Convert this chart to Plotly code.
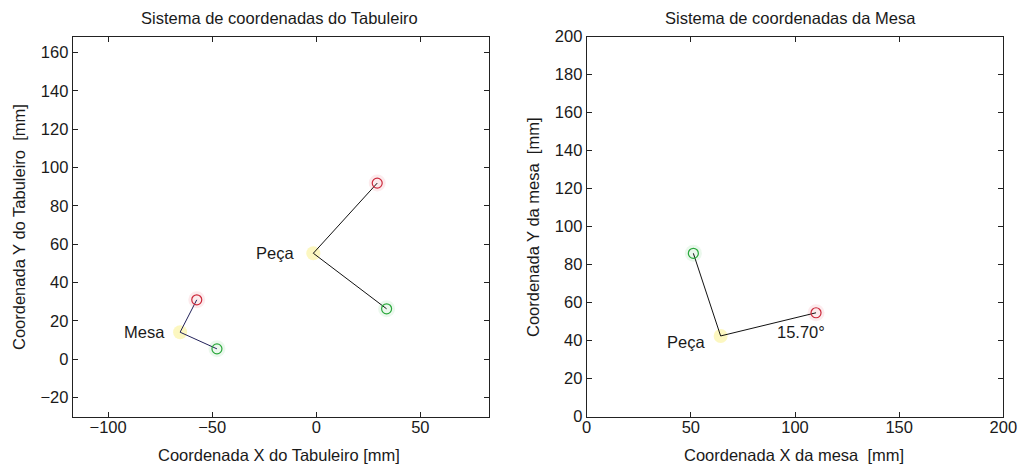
import plotly.graph_objects as go

# ---- data ----
# Left: board coordinate system
mesa_origin = [-65.4, 14.1]
mesa_red = [-57.4, 31.0]
mesa_green = [-47.7, 5.4]
peca_origin = [-1.4, 55.3]
peca_red = [29.3, 91.9]
peca_green = [33.8, 26.3]
# Right: table coordinate system
peca2_origin = [64.3, 42.5]
peca2_red = [110.1, 54.7]
peca2_green = [51.2, 86.0]
angle_label = "15.70°"

left_xticks = [-100, -50, 0, 50]
left_yticks = [-20, 0, 20, 40, 60, 80, 100, 120, 140, 160]
right_xticks = [0, 50, 100, 150, 200]
right_yticks = [0, 20, 40, 60, 80, 100, 120, 140, 160, 180, 200]

FONT = "Liberation Sans, Arial, sans-serif"
FS = 16.5
TXT = "#1a1a1a"

fig = go.Figure()

def frame(o, r, g, lc, xa, ya):
    for p, c in [(r, "rgba(230,60,80,0.10)"), (g, "rgba(60,190,80,0.10)")]:
        fig.add_trace(go.Scatter(x=[p[0]], y=[p[1]], mode="markers",
                                 marker=dict(size=17, color=c, line=dict(width=0)),
                                 xaxis=xa, yaxis=ya, showlegend=False, hoverinfo="skip"))
    fig.add_trace(go.Scatter(x=[o[0]], y=[o[1]], mode="markers",
                             marker=dict(size=14, color="rgba(250,240,140,0.55)", line=dict(width=0)),
                             xaxis=xa, yaxis=ya, showlegend=False))
    fig.add_trace(go.Scatter(x=[r[0], o[0], g[0]], y=[r[1], o[1], g[1]], mode="lines",
                             line=dict(color=lc, width=1),
                             xaxis=xa, yaxis=ya, showlegend=False))
    fig.add_trace(go.Scatter(x=[r[0]], y=[r[1]], mode="markers",
                             marker=dict(size=10, symbol="circle-open", color="#cc2a3c", line=dict(width=1.2)),
                             xaxis=xa, yaxis=ya, showlegend=False))
    fig.add_trace(go.Scatter(x=[g[0]], y=[g[1]], mode="markers",
                             marker=dict(size=10, symbol="circle-open", color="#2aa83c", line=dict(width=1.2)),
                             xaxis=xa, yaxis=ya, showlegend=False))

frame(mesa_origin, mesa_red, mesa_green, "#22225a", "x", "y")
frame(peca_origin, peca_red, peca_green, "#111111", "x", "y")
frame(peca2_origin, peca2_red, peca2_green, "#111111", "x2", "y2")

W, H = 1020, 468
ydom = [1 - 416.7 / H, 1 - 36.7 / H]
ax_common = dict(showline=True, mirror="ticks", linecolor="#222222", linewidth=1,
                 ticks="inside", ticklen=5, tickcolor="#222222", showgrid=False,
                 zeroline=False, automargin=False,
                 tickfont=dict(family=FONT, size=FS, color=TXT))

fig.update_layout(
    template="none",
    width=W, height=H, margin=dict(l=0, r=0, t=0, b=0, pad=0),
    paper_bgcolor="white", plot_bgcolor="white",
    font=dict(family=FONT, size=FS, color=TXT),
    xaxis=dict(domain=[72.7 / W, 489.0 / W], range=[-117, 83], tickvals=left_xticks, anchor="y",
               ticklabelstandoff=-5, **ax_common),
    yaxis=dict(domain=ydom, range=[-30, 168.3], tickvals=left_yticks, anchor="x", **ax_common),
    xaxis2=dict(domain=[586.7 / W, 1003.3 / W], range=[0, 200], tickvals=right_xticks, anchor="y2",
                ticklabelstandoff=-5, **ax_common),
    yaxis2=dict(domain=ydom, range=[0, 200], tickvals=right_yticks, anchor="x2", **ax_common),
)

ann = []
def txt(text, x, y, xref="paper", yref="paper", **kw):
    d = dict(text=text, x=x, y=y, xref=xref, yref=yref, showarrow=False,
             xanchor="center", yanchor="middle",
             font=dict(family=FONT, size=FS, color=TXT))
    d.update(kw)
    ann.append(d)

# titles
txt("Sistema de coordenadas do Tabuleiro", 279 / W, 1 - 18 / H)
txt("Sistema de coordenadas da Mesa", 790 / W, 1 - 18 / H)
# axis titles
txt("Coordenada X do Tabuleiro [mm]", 279 / W, 1 - 455 / H)
txt("Coordenada X da mesa  [mm]", 794 / W, 1 - 455 / H)
txt("Coordenada Y do Tabuleiro  [mm]", 19 / W, 1 - 227 / H, textangle=-90)
txt("Coordenada Y da mesa  [mm]", 533 / W, 1 - 227 / H, textangle=-90)
# point labels
txt("Mesa", mesa_origin[0], mesa_origin[1], "x", "y", xanchor="right", xshift=-13)
txt("Peça", peca_origin[0], peca_origin[1], "x", "y", xanchor="right", xshift=-17)
txt("Peça", peca2_origin[0], peca2_origin[1], "x2", "y2", xanchor="right", xshift=-14, yshift=-6)
txt(angle_label, peca2_red[0], peca2_red[1], "x2", "y2", xanchor="right", xshift=11, yshift=-19)

fig.update_layout(annotations=ann)
fig.write_html("out.html")
